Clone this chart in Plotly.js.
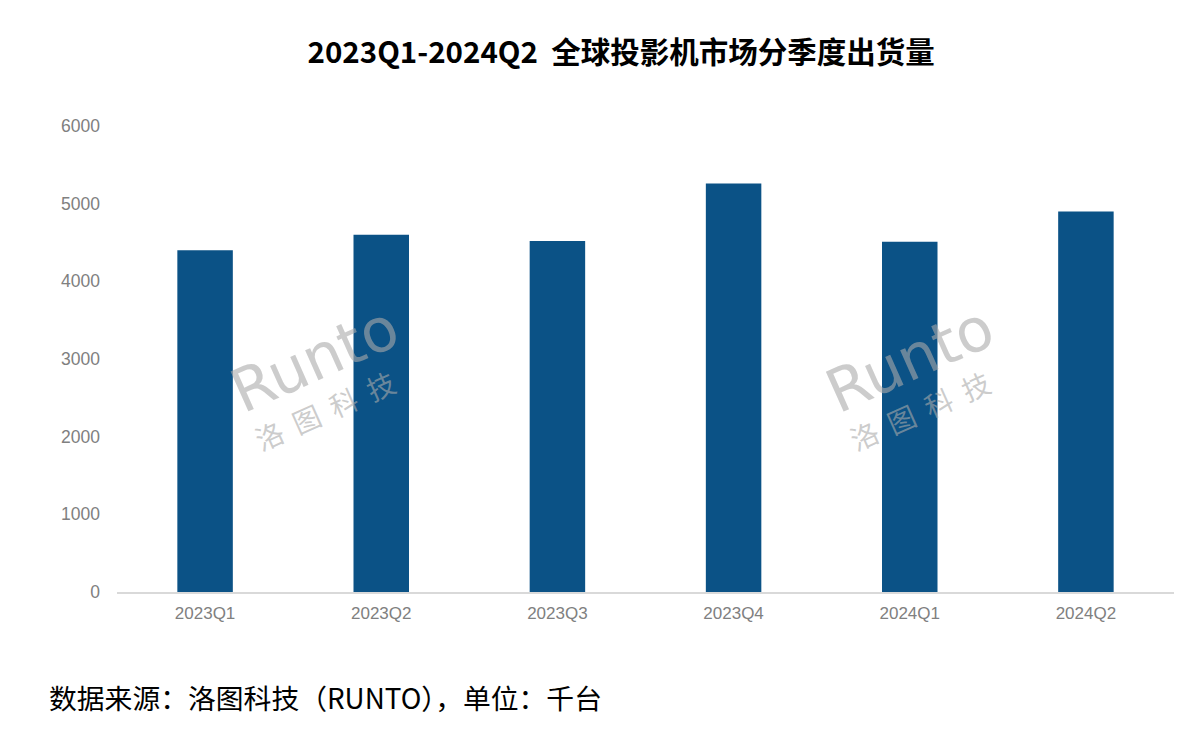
<!DOCTYPE html>
<html>
<head>
<meta charset="utf-8">
<script src="https://cdn.plot.ly/plotly-3.0.1.min.js"></script>
<style>
html,body{margin:0;padding:0;background:#fff;}
#chart{width:1190px;height:746px;}
</style>
</head>
<body>
<div id="chart"></div>
<script>
const categories = ["2023Q1","2023Q2","2023Q3","2023Q4","2024Q1","2024Q2"];
const shipments = [4400, 4600, 4520, 5260, 4510, 4900];
const yTicks = [0, 1000, 2000, 3000, 4000, 5000, 6000];
const titleText = "2023Q1-2024Q2  全球投影机市场分季度出货量";
const sourceText = "数据来源：洛图科技（RUNTO），单位：千台";

const cjk = '"Noto Sans CJK SC", "Noto Sans", sans-serif';
const wmColor = 'rgba(170,170,170,0.6)';

const trace = {
  type: 'bar',
  x: categories,
  y: shipments,
  marker: {color: '#0B5286'},
  hoverinfo: 'x+y'
};

function wm(x, y, text, size, font) {
  return {xref:'paper', yref:'paper', x:x, y:y, xanchor:'center', yanchor:'middle',
          text:text, showarrow:false,
          textangle:-24, font:{family:font, size:size, color:wmColor}};
}

const layout = {
  width: 1190, height: 746,
  margin: {l:117, r:16, t:126, b:154},
  paper_bgcolor: '#fff', plot_bgcolor: '#fff',
  showlegend: false,
  bargap: 0.685,
  title: {text: titleText, x: 0.522, xanchor: 'center', y: 0.93, yanchor: 'middle',
          font: {family: cjk, size: 29.5, color: '#000', weight: 700}},
  xaxis: {
    type: 'category',
    showgrid: false, zeroline: false,
    showline: true, linecolor: '#d9d9d9', linewidth: 1.5,
    ticks: '', ticklabelstandoff: 5,
    tickfont: {family: '"Liberation Sans", Arial, sans-serif', size: 17, color: '#808080'}
  },
  yaxis: {
    range: [0, 6000],
    tickvals: yTicks,
    ticktext: yTicks.map(String),
    showgrid: false, zeroline: false, showline: false,
    ticks: '', ticklabelstandoff: 16,
    tickfont: {family: '"Liberation Sans", Arial, sans-serif', size: 17.5, color: '#808080'}
  },
  annotations: [
    {xref:'paper', yref:'paper', x:-0.066, y:-0.225, xanchor:'left', yanchor:'middle',
     text: sourceText, showarrow:false,
     font:{family: cjk, size: 27.8, color:'#000'}},
    wm(0.187, 0.50, 'Runto', 60, '"DejaVu Sans", sans-serif'),
    wm(0.197, 0.39, '洛  图  科  技', 28, cjk),
    wm(0.75, 0.50, 'Runto', 60, '"DejaVu Sans", sans-serif'),
    wm(0.76, 0.39, '洛  图  科  技', 28, cjk)
  ]
};

Plotly.newPlot('chart', [trace], layout, {displayModeBar: false, staticPlot: true});
</script>
</body>
</html>
